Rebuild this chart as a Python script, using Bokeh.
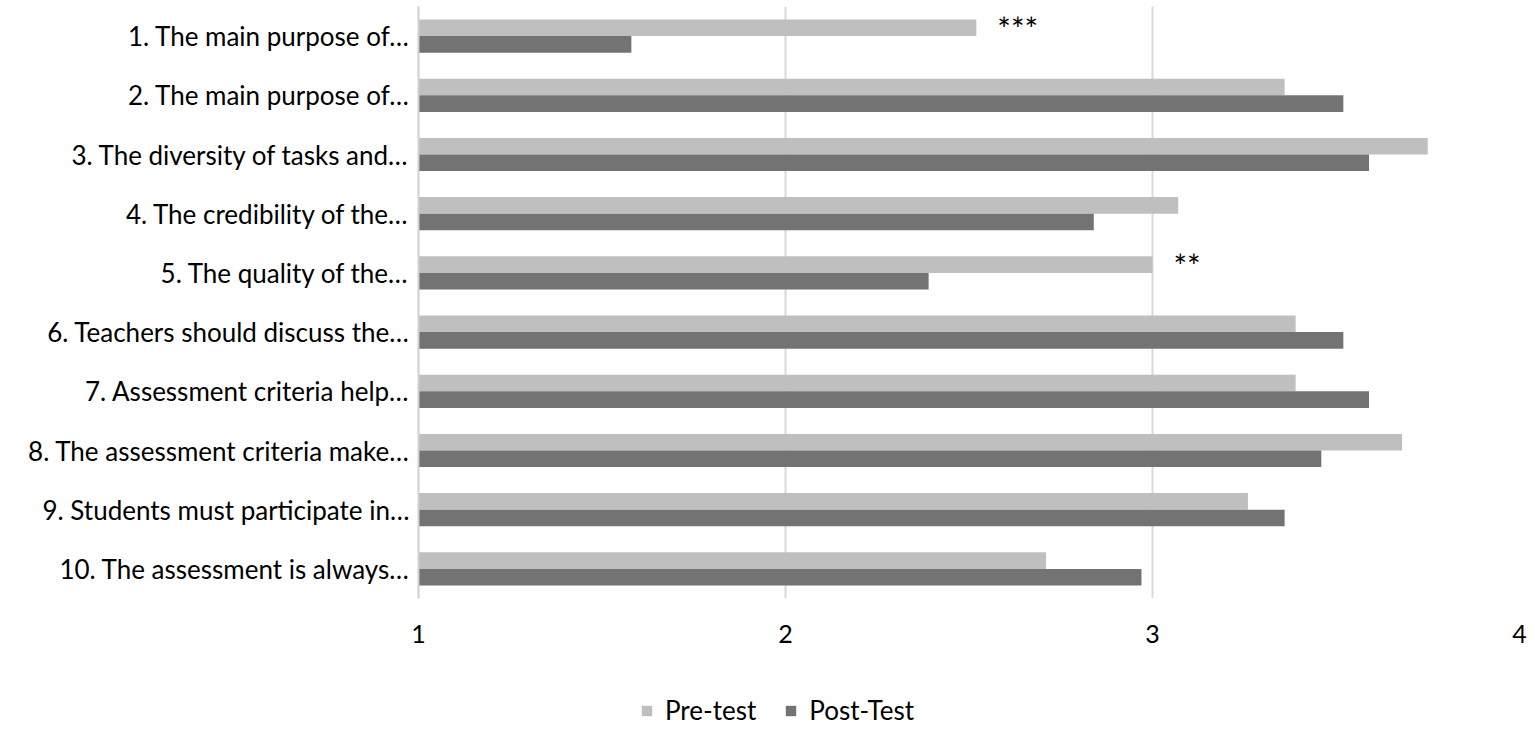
from bokeh.plotting import figure
from bokeh.layouts import column
from bokeh.models import ColumnDataSource, FactorRange, Range1d, FixedTicker, Legend, LegendItem
from bokeh.transform import dodge
from bokeh.core.properties import value
from bokeh.embed import file_html
from bokeh.resources import INLINE

categories = [
    "1. The main purpose of…",
    "2. The main purpose of…",
    "3. The diversity of tasks and…",
    "4. The credibility of the…",
    "5. The quality of the…",
    "6. Teachers should discuss the…",
    "7. Assessment criteria help…",
    "8. The assessment criteria make…",
    "9. Students must participate in…",
    "10. The assessment is always…",
]
pre_test = [2.52, 3.36, 3.75, 3.07, 3.00, 3.39, 3.39, 3.68, 3.26, 2.71]
post_test = [1.58, 3.52, 3.59, 2.84, 2.39, 3.52, 3.59, 3.46, 3.36, 2.97]
significance = ["***", "", "", "", "**", "", "", "", "", ""]
x_ticks = [1, 2, 3, 4]
series_names = ["Pre-test", "Post-Test"]

FONT = "Lato"
PRE_COLOR = "#bfbfbf"
POST_COLOR = "#737373"

src = ColumnDataSource(dict(cat=categories, pre=pre_test, post=post_test,
                            base=[1] * len(categories)))
ann_idx = [i for i, s in enumerate(significance) if s]
ann_src = ColumnDataSource(dict(cat=[categories[i] for i in ann_idx],
                                x=[pre_test[i] for i in ann_idx],
                                t=[significance[i] for i in ann_idx]))

p = figure(width=1535, height=660, output_backend="svg", toolbar_location=None,
           y_range=FactorRange(*list(reversed(categories)), range_padding=0),
           x_range=Range1d(1, 4),
           min_border_left=418, min_border_right=16, min_border_top=6,
           min_border_bottom=62)
p.outline_line_color = None

p.hbar(y=dodge("cat", 0.14, range=p.y_range), left="base", right="pre",
       height=0.28, color=PRE_COLOR, line_color=None, source=src)
p.hbar(y=dodge("cat", -0.14, range=p.y_range), left="base", right="post",
       height=0.28, color=POST_COLOR, line_color=None, source=src)

p.text(x="x", y=dodge("cat", 0.14, range=p.y_range), text="t", source=ann_src,
       x_offset=21, y_offset=1, text_align="left", text_baseline="middle",
       text_font=value(FONT), text_font_size="32px", text_color="#000000")

p.xaxis.ticker = FixedTicker(ticks=x_ticks)
p.xaxis.axis_line_color = None
p.xaxis.major_tick_line_color = None
p.xaxis.minor_tick_line_color = None
p.xaxis.major_label_standoff = 20
p.xaxis.major_label_text_font = FONT
p.xaxis.major_label_text_font_size = "25px"
p.xaxis.major_label_text_color = "#000000"

p.yaxis.axis_line_color = "#d0d0d0"
p.yaxis.axis_line_width = 2
p.yaxis.major_tick_line_color = None
p.yaxis.minor_tick_line_color = None
p.yaxis.major_label_standoff = 3
p.yaxis.major_label_text_font = FONT
p.yaxis.major_label_text_font_size = "26px"
p.yaxis.major_label_text_color = "#000000"

p.xgrid.grid_line_color = "#d9d9d9"
p.xgrid.grid_line_width = 2
p.ygrid.grid_line_color = None

# legend strip below the chart (its series renderers have zero height, so only the legend swatches show)
lf = figure(width=1535, height=69, output_backend="svg", toolbar_location=None,
            x_range=Range1d(1, 4), y_range=FactorRange(*categories),
            x_axis_type=None, y_axis_type=None, min_border=0)
lf.outline_line_color = None
lf.xgrid.grid_line_color = None
lf.ygrid.grid_line_color = None
lr_pre = lf.hbar(y="cat", left="base", right="pre", height=0, source=src,
                 fill_color=PRE_COLOR, line_color=None)
lr_post = lf.hbar(y="cat", left="base", right="post", height=0, source=src,
                  fill_color=POST_COLOR, line_color=None)
legend = Legend(items=[LegendItem(label=series_names[0], renderers=[lr_pre]),
                       LegendItem(label=series_names[1], renderers=[lr_post])],
                orientation="horizontal", location=(222, 3),
                label_text_font=FONT, label_text_font_size="26px",
                label_text_color="#000000", label_standoff=12,
                glyph_width=13, glyph_height=13, spacing=28,
                border_line_color=None, background_fill_alpha=0, margin=0, padding=0)
lf.add_layout(legend, "center")

open("out.html", "w").write(file_html(column(p, lf, spacing=0), INLINE))
